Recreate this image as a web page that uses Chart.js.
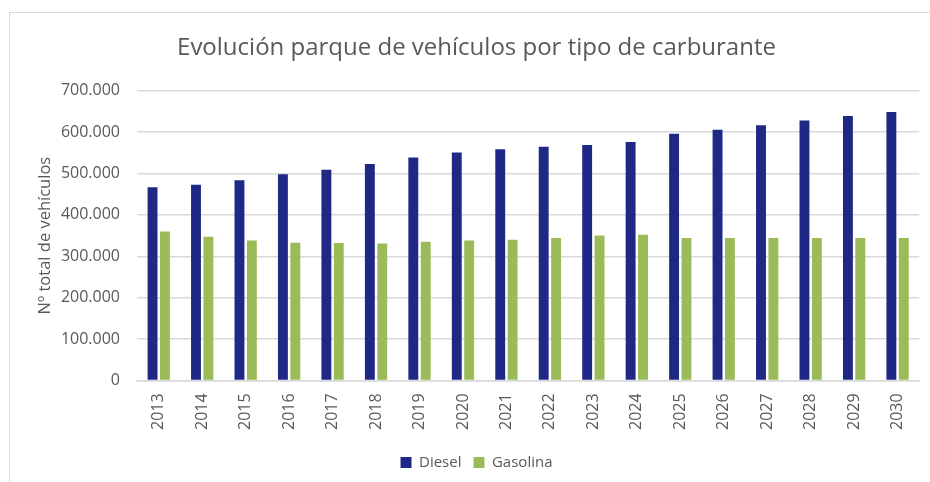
<!DOCTYPE html>
<html>
<head>
<meta charset="utf-8">
<script src="https://cdn.jsdelivr.net/npm/chart.js@4"></script>
<style>
  html, body { margin: 0; padding: 0; background: #fff; }
  #wrap { position: relative; width: 930px; height: 482px; }
  #frame { position: absolute; left: 9px; top: 12px; right: -2px; bottom: -2px;
           border-left: 1px solid #d9d9d9; border-top: 1px solid #d9d9d9; }
  canvas { position: absolute; left: 0; top: 0; }
</style>
</head>
<body>
<div id="wrap">
  <div id="frame"></div>
  <canvas id="chart" width="930" height="482"></canvas>
</div>
<script>
// data
const years = ['2013', '2014', '2015', '2016', '2017', '2018', '2019', '2020', '2021',
               '2022', '2023', '2024', '2025', '2026', '2027', '2028', '2029', '2030'];
const diesel = [467000, 473000, 484000, 498000, 509000, 523000, 539000, 551000, 559000,
                565000, 569000, 576000, 596000, 606000, 617000, 628000, 639000, 649000];
const gasolina = [360000, 347000, 338000, 333000, 332000, 331000, 335000, 338000, 340000,
                  344000, 350000, 352000, 344000, 344000, 344000, 344000, 344000, 344000];
const yMax = 700000;
const yStep = 100000;

const textColor = '#595959';
const font = 'Open Sans';

function fmtMiles(v) {
    return String(v).replace(/\B(?=(\d{3})+(?!\d))/g, '.');
}

new Chart(document.getElementById('chart'), {
    type: 'bar',
    data: {
        labels: years,
        datasets: [{
            label: 'Diesel',
            data: diesel,
            backgroundColor: '#202885'
        }, {
            label: 'Gasolina',
            data: gasolina,
            backgroundColor: '#9bbb59'
        }]
    },
    options: {
        responsive: false,
        animation: false,
        devicePixelRatio: 1,
        categoryPercentage: 0.57,
        barPercentage: 0.8,
        layout: {
            padding: { left: 31, right: 8, top: 20, bottom: 2 }
        },
        plugins: {
            title: {
                display: true,
                text: 'Evolución parque de vehículos por tipo de carburante',
                color: textColor,
                font: { family: font, size: 24, weight: 'normal' },
                padding: { top: 14, bottom: 28 }
            },
            legend: {
                position: 'bottom',
                labels: {
                    color: textColor,
                    font: { family: font, size: 15 },
                    boxWidth: 11,
                    boxHeight: 11,
                    padding: 12
                }
            },
            tooltip: { enabled: false }
        },
        scales: {
            x: {
                grid: { display: false, drawTicks: false },
                border: { display: true, color: '#d9d9d9', width: 1.5 },
                ticks: {
                    color: textColor,
                    font: { family: font, size: 16 },
                    minRotation: 90,
                    maxRotation: 90,
                    padding: 13
                }
            },
            y: {
                min: 0,
                max: yMax,
                afterFit: function (scale) { scale.width = 106; },
                grid: { color: '#d9d9d9', lineWidth: 1.5, drawTicks: false },
                border: { display: false },
                ticks: {
                    stepSize: yStep,
                    color: textColor,
                    font: { family: font, size: 16 },
                    padding: 17,
                    callback: function (v) { return fmtMiles(v); }
                },
                title: {
                    display: true,
                    text: 'Nº total de vehículos',
                    color: textColor,
                    font: { family: font, size: 16.5 },
                    padding: { top: 4, bottom: 0 }
                }
            }
        }
    }
});
</script>
</body>
</html>
